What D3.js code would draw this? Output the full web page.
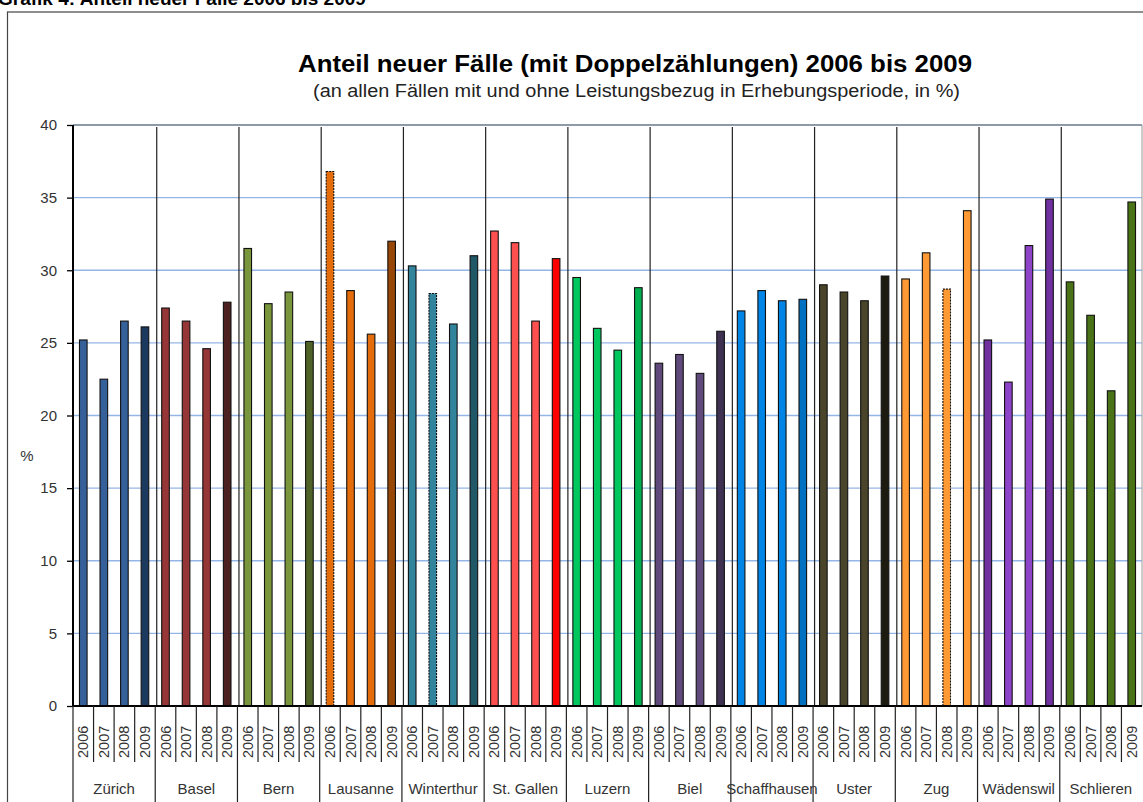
<!DOCTYPE html>
<html>
<head>
<meta charset="utf-8">
<script src="https://cdn.jsdelivr.net/npm/d3@7"></script>
<style>
  body { margin: 0; background: #fff; }
  svg { display: block; font-family: "Liberation Sans", Arial, sans-serif; }
</style>
</head>
<body>
<div id="chart-area"></div>
<script>
// Anteil neuer Fälle 2006 bis 2009

const cities = ["Zürich", "Basel", "Bern", "Lausanne", "Winterthur", "St. Gallen", "Luzern",
  "Biel", "Schaffhausen", "Uster", "Zug", "Wädenswil", "Schlieren"]
const years = ["2006", "2007", "2008", "2009"]

// one row per city, one value per year (%)
const values = [
  [25.2, 22.5, 26.5, 26.1],
  [27.4, 26.5, 24.6, 27.8],
  [31.5, 27.7, 28.5, 25.1],
  [36.8, 28.6, 25.6, 32.0],
  [30.3, 28.4, 26.3, 31.0],
  [32.7, 31.9, 26.5, 30.8],
  [29.5, 26.0, 24.5, 28.8],
  [23.6, 24.2, 22.9, 25.8],
  [27.2, 28.6, 27.9, 28.0],
  [29.0, 28.5, 27.9, 29.6],
  [29.4, 31.2, 28.7, 34.1],
  [25.2, 22.3, 31.7, 34.9],
  [29.2, 26.9, 21.7, 34.7]
]

const colors = [
  ["#36609a", "#36609a", "#36609a", "#1c3a60"],
  ["#963637", "#963637", "#963637", "#4c2120"],
  ["#7a963c", "#7a963c", "#7a963c", "#4f6228"],
  ["#e46c0a", "#e46c0a", "#e46c0a", "#974806"],
  ["#31849b", "#31849b", "#31849b", "#215868"],
  ["#ff5050", "#ff5050", "#ff5050", "#ff0000"],
  ["#00c85f", "#00c85f", "#00c85f", "#00b050"],
  ["#604a7b", "#604a7b", "#604a7b", "#3f3151"],
  ["#0085e6", "#0085e6", "#0085e6", "#0070c0"],
  ["#4a452a", "#4a452a", "#4a452a", "#1d1b10"],
  ["#ff9933", "#ff9933", "#ff9933", "#ff9933"],
  ["#7030a0", "#8e44c8", "#8e44c8", "#7030a0"],
  ["#4a7318", "#4a7318", "#4a7318", "#4a7318"]
]

// bars drawn with a dashed outline in the original
const dashed = ["Lausanne 2006", "Winterthur 2007", "Zug 2008"]

const yTicks = [0, 5, 10, 15, 20, 25, 30, 35, 40]

const W = 1143, H = 802
const MARGIN = { LEFT: 73, RIGHT: 1, TOP: 125, BOTTOM: 96 }
const WIDTH = W - MARGIN.LEFT - MARGIN.RIGHT
const HEIGHT = H - MARGIN.TOP - MARGIN.BOTTOM

const data = []
cities.forEach((c, i) => years.forEach((yr, j) => {
  data.push({ city: c, year: yr, value: values[i][j], color: colors[i][j] })
}))

const svg = d3.select("#chart-area").append("svg")
  .attr("width", W)
  .attr("height", H)

// heading above the frame (cut by the page top)
svg.append("text")
  .attr("x", -2)
  .attr("y", 5)
  .attr("font-size", "19px")
  .attr("font-weight", "bold")
  .attr("fill", "#000")
  .text("Grafik 4: Anteil neuer Fälle 2006 bis 2009")

// frame
svg.append("rect")
  .attr("x", 7.5)
  .attr("y", 12)
  .attr("width", W + 20)
  .attr("height", H + 20)
  .attr("fill", "none")
  .attr("stroke", "#444")
  .attr("stroke-width", 1.2)

svg.append("text")
  .attr("x", 298)
  .attr("y", 72)
  .attr("font-size", "23px")
  .attr("font-weight", "bold")
  .attr("fill", "#000")
  .attr("textLength", 674)
  .attr("lengthAdjust", "spacingAndGlyphs")
  .text("Anteil neuer Fälle (mit Doppelzählungen) 2006 bis 2009")

svg.append("text")
  .attr("x", 313)
  .attr("y", 97)
  .attr("font-size", "17.5px")
  .attr("fill", "#222")
  .attr("textLength", 647)
  .attr("lengthAdjust", "spacingAndGlyphs")
  .text("(an allen Fällen mit und ohne Leistungsbezug in Erhebungsperiode, in %)")

const g = svg.append("g")
  .attr("transform", `translate(${MARGIN.LEFT}, ${MARGIN.TOP})`)

const x0 = d3.scaleBand()
  .domain(cities)
  .range([0, WIDTH])

const x1 = d3.scaleBand()
  .domain(years)
  .range([0, x0.bandwidth()])

const y = d3.scaleLinear()
  .domain([0, 40])
  .range([HEIGHT, 0])

// gridlines
g.selectAll(".grid")
  .data(yTicks.filter(t => t > 0 && t < 40))
  .enter().append("line")
  .attr("x1", 0)
  .attr("x2", WIDTH)
  .attr("y1", d => y(d))
  .attr("y2", d => y(d))
  .attr("stroke", "#94b6e6")
  .attr("stroke-width", 1.3)

g.append("line")
  .attr("x1", 0).attr("x2", WIDTH)
  .attr("y1", y(40)).attr("y2", y(40))
  .attr("stroke", "#8d9aa8")
  .attr("stroke-width", 2)

g.append("line")
  .attr("x1", WIDTH).attr("x2", WIDTH)
  .attr("y1", y(40)).attr("y2", y(0))
  .attr("stroke", "#999")
  .attr("stroke-width", 1)

// separators between cities inside the plot
g.selectAll(".sep")
  .data(cities.slice(1))
  .enter().append("line")
  .attr("x1", d => x0(d) + 1.5)
  .attr("x2", d => x0(d) + 1.5)
  .attr("y1", y(40) + 2)
  .attr("y2", y(0))
  .attr("stroke", "#222")
  .attr("stroke-width", 1.2)

// bars
g.selectAll(".bar")
  .data(data)
  .enter().append("rect")
  .attr("x", d => x0(d.city) + x1(d.year) + x1.bandwidth() / 2 - 3.8)
  .attr("y", d => y(d.value))
  .attr("width", 7.6)
  .attr("height", d => y(0) - y(d.value))
  .attr("fill", d => d.color)
  .attr("stroke", "#111")
  .attr("stroke-width", 1.1)
  .attr("stroke-dasharray", d => dashed.includes(d.city + " " + d.year) ? "2,1" : null)

// y axis
const yAxisCall = d3.axisLeft(y)
  .tickValues(yTicks)
  .tickSize(6)
  .tickPadding(10)
g.append("g")
  .attr("class", "y axis")
  .call(yAxisCall)
  .call(ax => ax.select(".domain").remove())
  .call(ax => ax.selectAll("line").attr("stroke", "#000").attr("stroke-width", 1.3))
  .call(ax => ax.selectAll("text").attr("font-size", "15px").attr("fill", "#333")
    .attr("font-family", "Liberation Sans, Arial, sans-serif"))

g.append("line")
  .attr("x1", 0).attr("x2", 0)
  .attr("y1", y(40)).attr("y2", y(0))
  .attr("stroke", "#000")
  .attr("stroke-width", 2)

g.append("text")
  .attr("x", 27 - MARGIN.LEFT)
  .attr("y", 461 - MARGIN.TOP)
  .attr("text-anchor", "middle")
  .attr("font-size", "15px")
  .attr("fill", "#333")
  .text("%")

// x axis: years and cities
g.append("line")
  .attr("x1", 0).attr("x2", WIDTH)
  .attr("y1", y(0)).attr("y2", y(0))
  .attr("stroke", "#000")
  .attr("stroke-width", 2)

const groups = g.selectAll(".city")
  .data(cities)
  .enter().append("g")
  .attr("transform", d => `translate(${x0(d)}, ${HEIGHT})`)

groups.append("line")
  .attr("x1", 0).attr("x2", 0)
  .attr("y1", 0).attr("y2", MARGIN.BOTTOM)
  .attr("stroke", "#222")
  .attr("stroke-width", 1.2)

groups.selectAll(".ytick")
  .data(years.slice(1))
  .enter().append("line")
  .attr("x1", d => x1(d)).attr("x2", d => x1(d))
  .attr("y1", 0).attr("y2", 56)
  .attr("stroke", "#222")
  .attr("stroke-width", 1.2)

groups.selectAll(".ylab")
  .data(years)
  .enter().append("text")
  .attr("transform", d => `translate(${x1(d) + x1.bandwidth() / 2 + 5}, 52) rotate(-90)`)
  .attr("font-size", "14.5px")
  .attr("fill", "#333")
  .text(d => d)

groups.append("text")
  .attr("x", x0.bandwidth() / 2)
  .attr("y", 88)
  .attr("text-anchor", "middle")
  .attr("font-size", "15px")
  .attr("fill", "#333")
  .text(d => d)
</script>
</body>
</html>
